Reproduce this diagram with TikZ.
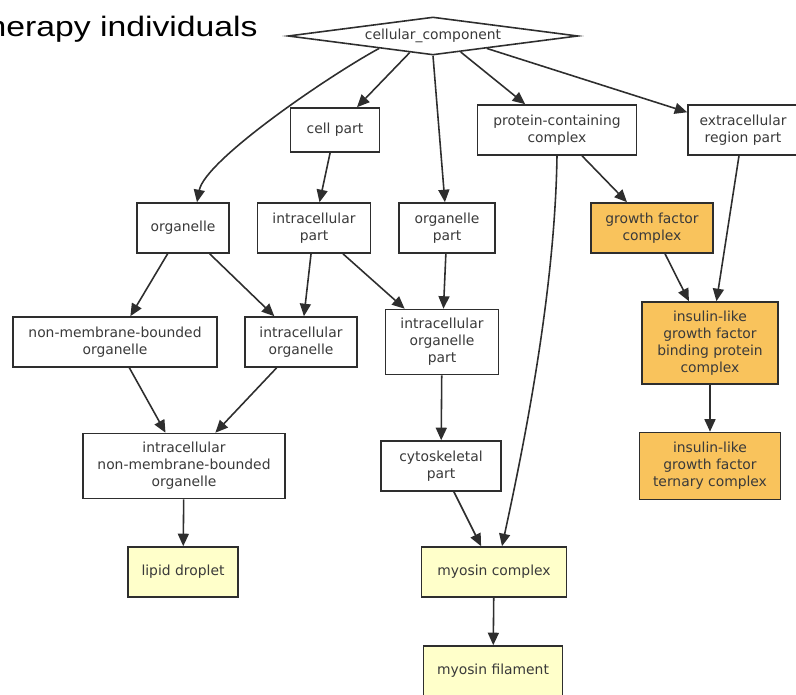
\documentclass[tikz,border=0pt]{standalone}
\usepackage{fontspec}
\usepackage{xcolor}
\usepackage{tikz}
\usetikzlibrary{calc,arrows.meta,shapes.geometric}
\newfontfamily\gofont{DejaVu Sans}
\newfontfamily\slidefont{Liberation Sans}
\definecolor{linex}{HTML}{2E2E2E}
\definecolor{textx}{HTML}{3A3A3A}
\definecolor{orangex}{HTML}{F9C35C}
\definecolor{creamx}{HTML}{FFFFCA}
\tikzset{
  ar/.style={-{Triangle[length=2.5mm,width=2.2mm]},line width=0.9pt,linex},
  term/.style={draw=linex,line width=0.9pt,fill=white,align=center,inner sep=0pt,
    text=textx,font=\gofont\fontsize{7.9}{9.6}\selectfont,minimum height=1cm},
  hit/.style={term,fill=orangex},
  leaf/.style={term,fill=creamx}
}

\begin{document}
\begin{tikzpicture}[x=0.02cm,y=-0.02cm]
\useasboundingbox (0,0) rectangle (796,695);
\node[font=\slidefont\fontsize{16}{18}\selectfont,anchor=base east,inner sep=0pt] (title) at (258,37) {\scalebox{1.2}[1]{herapy individuals}};
\node[draw=linex,line width=0.9pt,shape=diamond,aspect=7.6,inner sep=0pt,minimum width=5.8cm,minimum height=0.76cm,
  text=textx,font=\gofont\fontsize{7.9}{9.6}\selectfont] (cc) at (433,36) {cellular\_component};
\node[term,minimum width=1.78cm,minimum height=0.88cm] (cp) at (335,130) {cell part};
\node[term,minimum width=3.18cm] (pcc) at (557,130) {protein-containing\\complex};
\node[term,minimum width=2.2cm] (ex) at (743,130) {extracellular\\region part};
\node[term,minimum width=1.84cm] (org) at (183,228) {organelle};
\node[term,minimum width=2.26cm] (ip) at (314,228) {intracellular\\part};
\node[term,minimum width=1.92cm] (op) at (447,228) {organelle\\part};
\node[hit,minimum width=2.44cm] (gfc) at (652,228) {growth factor\\complex};
\node[term,minimum width=4.08cm] (nmbo) at (115,342) {non-membrane-bounded\\organelle};
\node[term,minimum width=2.24cm] (io) at (301,342) {intracellular\\organelle};
\node[term,minimum width=2.26cm,minimum height=1.3cm] (iop) at (442,342) {intracellular\\organelle\\part};
\node[hit,minimum width=2.72cm,minimum height=1.64cm] (igfbp) at (710,343) {insulin-like\\growth factor\\binding protein\\complex};
\node[term,minimum width=4.04cm,minimum height=1.3cm] (inmbo) at (184,466) {intracellular\\non-membrane-bounded\\organelle};
\node[term,minimum width=2.4cm] (cyto) at (441,466) {cytoskeletal\\part};
\node[hit,minimum width=2.82cm,minimum height=1.34cm] (tern) at (710,466) {insulin-like\\growth factor\\ternary complex};
\node[leaf,minimum width=2.2cm] (lipid) at (183,572) {lipid droplet};
\node[leaf,minimum width=2.9cm] (myoc) at (494,572) {myosin complex};
\node[leaf,minimum width=2.78cm] (myof) at (493,671) {myosin filament};

\draw[ar] ($(cc.south)!0.37!(cc.west)$) .. controls (330,75) and (205,160) .. ([xshift=0.28cm]org.north);
\draw[ar] ($(cc.south)!0.16!(cc.west)$) -- (cp);
\draw[ar] (cc.south) -- (op);
\draw[ar] ($(cc.south)!0.19!(cc.east)$) -- (pcc);
\draw[ar] ($(cc.south)!0.37!(cc.east)$) -- (ex);
\draw[ar] (cp) -- (ip);
\draw[ar] (org) -- (nmbo);
\draw[ar] (org) -- (io);
\draw[ar] (ip) -- (io);
\draw[ar] (ip) -- (iop);
\draw[ar] (op) -- (iop);
\draw[ar] (pcc) -- (gfc);
\draw[ar] (pcc.south) .. controls (555,290) and (525,440) .. ([xshift=0.16cm]myoc.north);
\draw[ar] (ex) -- (igfbp);
\draw[ar] (gfc) -- (igfbp);
\draw[ar] (nmbo) -- (inmbo);
\draw[ar] (io) -- (inmbo);
\draw[ar] (iop) -- (cyto);
\draw[ar] (inmbo) -- (lipid);
\draw[ar] (cyto) -- (myoc);
\draw[ar] (igfbp) -- (tern);
\draw[ar] (myoc) -- (myof);
\end{tikzpicture}
\end{document}
